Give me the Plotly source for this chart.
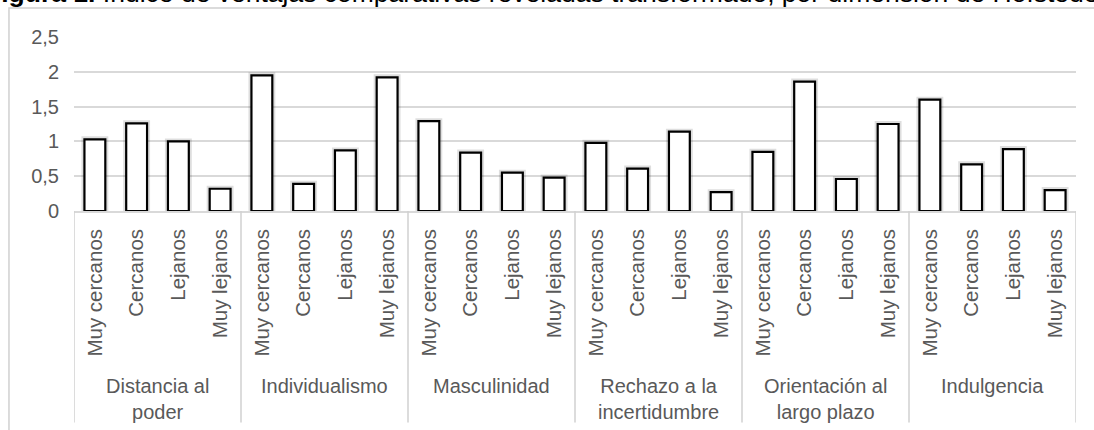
import plotly.graph_objects as go

# ---- data ----
groups = ["Distancia al<br>poder", "Individualismo", "Masculinidad",
          "Rechazo a la<br>incertidumbre", "Orientación al<br>largo plazo", "Indulgencia"]
subcats = ["Muy cercanos", "Cercanos", "Lejanos", "Muy lejanos"]
distancia = [1.03, 1.26, 1.00, 0.32]
individualismo = [1.95, 0.39, 0.87, 1.92]
masculinidad = [1.29, 0.84, 0.55, 0.48]
rechazo = [0.98, 0.61, 1.14, 0.27]
orientacion = [0.85, 1.86, 0.46, 1.25]
indulgencia = [1.60, 0.67, 0.89, 0.30]
yticks = [0, 0.5, 1, 1.5, 2, 2.5]
title_bold = "Figura 1."
title_rest = " Índice de ventajas comparativas reveladas transformado, por dimensión de Hofstede"

series = [distancia, individualismo, masculinidad, rechazo, orientacion, indulgencia]
values = [v for s in series for v in s]
labels = [c for _ in groups for c in subcats]
xs = list(range(len(values)))

FONT = "Liberation Sans, Arial, sans-serif"
GREY = "#595959"
LIGHT = "#d9d9d9"

fig = go.Figure()
# soft shadow under bars
fig.add_trace(go.Bar(x=xs, y=values, marker=dict(color="rgba(0,0,0,0)",
                     line=dict(color="rgba(0,0,0,0.13)", width=6)),
                     hoverinfo="skip", showlegend=False))
fig.add_trace(go.Bar(x=xs, y=values, marker=dict(color="white",
                     line=dict(color="black", width=2.2)),
                     showlegend=False))

n = len(subcats)
shapes = []
annotations = []
bounds = [-0.5 + i * n for i in range(len(groups) + 1)]
for b in bounds:
    shapes.append(dict(type="line", xref="x", yref="paper", x0=b, x1=b,
                       y0=0, y1=-1.215, line=dict(color="#d0d0d0", width=1.5)))
for gi, g in enumerate(groups):
    center = gi * n + (n - 1) / 2
    annotations.append(dict(text=g, xref="x", yref="paper", x=center, y=-0.93,
                            xanchor="center", yanchor="top", showarrow=False,
                            font=dict(family=FONT, size=20, color=GREY)))
# outer chart frame
shapes.append(dict(type="rect", xref="paper", yref="paper", x0=-0.0649, x1=1.2,
                   y0=-3, y1=1.167, line=dict(color="#d0d0d0", width=1.5), layer="above"))
# title (partially cropped at top in the reference)
annotations.append(dict(text="<b>" + title_bold + "</b>" + title_rest,
                        xref="paper", yref="paper", x=0, y=1, xanchor="left",
                        yanchor="bottom", xshift=-91, yshift=26.5, showarrow=False,
                        font=dict(family=FONT, size=26.5, color="black")))

fig.update_layout(
    width=1094, height=430,
    margin=dict(l=74, r=18, t=37, b=219),
    paper_bgcolor="white", plot_bgcolor="white",
    barmode="overlay", bargap=0.5,
    separators=",.",
    font=dict(family=FONT, size=20, color=GREY),
    shapes=shapes, annotations=annotations,
    xaxis=dict(range=[-0.5, len(values) - 0.5], tickmode="array", tickvals=xs,
               ticktext=labels, tickangle=-90, showgrid=False, showline=True,
               linecolor=LIGHT, linewidth=1.5, ticks="", ticklabelstandoff=8,
               tickfont=dict(family=FONT, size=20.5, color=GREY), zeroline=False),
    yaxis=dict(range=[0, 2.5], tickmode="array", tickvals=yticks, showgrid=True,
               gridcolor=LIGHT, gridwidth=1.5, zeroline=False, showline=False,
               ticks="", ticklabelstandoff=14,
               tickfont=dict(family=FONT, size=20, color=GREY)),
)

fig.write_html("out.html", config={"displayModeBar": False},
               post_script="document.body.style.margin='0';document.body.style.overflow='hidden';")
